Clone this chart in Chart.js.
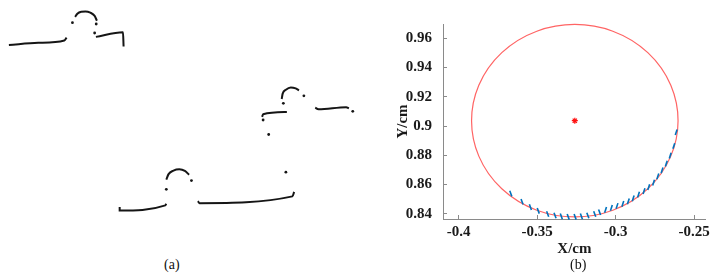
<!DOCTYPE html>
<html>
<head>
<meta charset="utf-8">
<script src="https://cdn.jsdelivr.net/npm/chart.js@4"></script>
<style>
    body { margin: 0; background: #fff; width: 718px; height: 278px; position: relative; overflow: hidden; font-family: 'Liberation Serif', serif; }
    #wrapA { position: absolute; left: 0; top: 0; width: 360px; height: 240px; }
    #wrapB { position: absolute; left: 380px; top: 0; width: 338px; height: 278px; }
    .cap { position: absolute; font-size: 14px; color: #111; line-height: 16px; }
</style>
</head>
<body>
<div id="wrapA"><canvas id="chartA"></canvas></div>
<div id="wrapB"><canvas id="chartB"></canvas></div>
<div class="cap" style="left:164px; top:257px;">(a)</div>
<div class="cap" style="left:570px; top:257px;">(b)</div>
<script>
// ---- panel (b): measured profile points and fitted circle ----
var markX = [-0.3668, -0.3596, -0.3543, -0.3493, -0.3433, -0.3386, -0.3346, -0.3302, -0.3258, -0.3218,
             -0.3177, -0.3133, -0.3102, -0.3064, -0.3027, -0.2991, -0.2954, -0.2919, -0.2888, -0.2854,
             -0.2819, -0.2789, -0.2758, -0.2731, -0.2704, -0.2677, -0.2652, -0.2629, -0.2614];
var markY = [0.8539, 0.8483, 0.8446, 0.8421, 0.8399, 0.8389, 0.8383, 0.8380, 0.8380, 0.8383,
             0.8389, 0.8399, 0.8411, 0.8427, 0.8441, 0.8454, 0.8469, 0.8485, 0.8506, 0.8531,
             0.8556, 0.8583, 0.8614, 0.8656, 0.8698, 0.8744, 0.8798, 0.8864, 0.8958];
var circleCenter = [-0.326, 0.9037];
var circleRadius = 0.0658;

var xTicks = [-0.4, -0.35, -0.3, -0.25];
var xTickLabels = ['-0.4', '-0.35', '-0.3', '-0.25'];
var yTicks = [0.84, 0.86, 0.88, 0.9, 0.92, 0.94, 0.96];
var yTickLabels = ['0.84', '0.86', '0.88', '0.9', '0.92', '0.94', '0.96'];

// ---- panel (a): point cloud outlines, in image units ----
var topBar = [[5, 42.3], [35, 40.2], [61.7, 37.7], [64, 34.7]];
var topArc = [[72.7, 13.3], [75, 10], [79, 8], [83.3, 7.7], [88.3, 9], [92.7, 12.3], [95, 17.3]];
var topRight = [[94, 34], [121.7, 29.3], [122.3, 44]];
var midArc = [[284, 98.3], [285, 92.7], [288.3, 88.7], [293.3, 86.3], [298.3, 87.3], [301.7, 89.3]];
var midLeftBar = [[264, 116.7], [265, 114], [289.3, 111.7]];
var midRightBar = [[318.3, 107.3], [321.7, 109], [350, 106.7], [352.7, 108]];
var lowArc = [[166, 181.7], [168.3, 176], [173.3, 172.3], [179.3, 171], [185, 172.7], [189.3, 176.7]];
var lowLeftBar = [[118.3, 210], [118.3, 213.7], [165, 208.3], [166, 206.7]];
var lowRightBar = [[198.3, 204], [200, 206], [295, 199], [296.7, 194.3]];
var looseDots = [[70, 19.3], [94.3, 20.7], [92.7, 30], [306.7, 95], [285.7, 102.7], [265, 120],
                 [270.7, 135], [288.3, 174], [356.7, 111], [191.7, 182.7], [166, 191.7]];

var serif = "'Liberation Serif', 'DejaVu Serif', serif";

function toPts(arr) {
    return arr.map(function(p) { return {x: p[0], y: p[1]}; });
}

// panel (a)
var segs = [topBar, topArc, topRight, midArc, midLeftBar, midRightBar, lowArc, lowLeftBar, lowRightBar];
var dsA = segs.map(function(s) {
    return { data: toPts(s), showLine: true, borderColor: '#151515', borderWidth: 2, pointRadius: 0, tension: 0.3 };
});
dsA.push({ data: toPts(looseDots), showLine: false, pointRadius: 1.4, backgroundColor: '#151515', borderWidth: 0 });

new Chart(document.getElementById('chartA'), {
    type: 'scatter',
    data: { datasets: dsA },
    options: {
        responsive: true, maintainAspectRatio: false, animation: false,
        layout: { padding: 0 },
        plugins: { legend: { display: false }, tooltip: { enabled: false } },
        scales: {
            x: { display: false, min: 0, max: 360 },
            y: { display: false, min: 0, max: 240, reverse: true }
        },
        elements: { line: { cubicInterpolationMode: 'monotone' } }
    }
});

// panel (b)
var fitCircle = {
    id: 'fitCircle',
    beforeDatasetsDraw: function(chart) {
        var xs = chart.scales.x, ys = chart.scales.y, ctx = chart.ctx;
        var cx = xs.getPixelForValue(circleCenter[0]);
        var cy = ys.getPixelForValue(circleCenter[1]);
        var rx = Math.abs(xs.getPixelForValue(circleCenter[0] + circleRadius) - cx);
        var ry = Math.abs(ys.getPixelForValue(circleCenter[1] + circleRadius) - cy);
        ctx.save();
        ctx.strokeStyle = 'rgb(255,100,100)';
        ctx.lineWidth = 1.2;
        ctx.beginPath();
        ctx.ellipse(cx, cy, rx, ry, 0, 0, Math.PI * 2);
        ctx.stroke();
        ctx.restore();
    }
};

var tickFont = { family: serif, size: 15, weight: 'bold' };
var titleFont = { family: serif, size: 15, weight: 'bold' };

new Chart(document.getElementById('chartB'), {
    type: 'scatter',
    data: {
        datasets: [{
            data: markX.map(function(x, i) { return {x: x, y: markY[i]}; }),
            pointStyle: 'line',
            pointRadius: 3,
            borderColor: '#0072BD',
            borderWidth: 1.6,
            rotation: function(c) { return markX[c.dataIndex] < -0.31 ? 70 : -72; },
            clip: 3
        }, {
            data: [{x: circleCenter[0], y: circleCenter[1]}],
            pointStyle: 'star',
            pointRadius: 3,
            borderColor: '#ff1010',
            borderWidth: 1.2
        }]
    },
    options: {
        responsive: true, maintainAspectRatio: false, animation: false,
        layout: { padding: { top: 7, right: 7, left: 0, bottom: 0 } },
        plugins: { legend: { display: false }, tooltip: { enabled: false } },
        scales: {
            x: {
                type: 'linear', min: -0.41, max: -0.2425,
                afterBuildTicks: function(s) { s.ticks = xTicks.map(function(v) { return {value: v}; }); },
                afterFit: function(s) { s.height = 59; },
                ticks: { callback: function(v, i) { return xTickLabels[i]; }, font: tickFont, color: '#1a1a1a', padding: 8, maxRotation: 0, autoSkip: false },
                grid: { drawOnChartArea: false, drawTicks: true, tickLength: -4, color: '#8a8a8a' },
                border: { display: true, color: '#8a8a8a', width: 1 },
                title: { display: true, text: 'X/cm', font: titleFont, color: '#1a1a1a', padding: { top: 0, bottom: 20 } }
            },
            y: {
                type: 'linear', min: 0.8365, max: 0.9698,
                afterBuildTicks: function(s) { s.ticks = yTicks.map(function(v) { return {value: v}; }); },
                afterFit: function(s) { s.width = 63; },
                ticks: { callback: function(v, i) { return yTickLabels[i]; }, font: tickFont, color: '#1a1a1a', padding: 15, autoSkip: false },
                grid: { drawOnChartArea: false, drawTicks: true, tickLength: -4, color: '#8a8a8a' },
                border: { display: true, color: '#8a8a8a', width: 1 },
                title: { display: true, text: 'Y/cm', font: titleFont, color: '#1a1a1a', padding: { top: 14, bottom: 14 } }
            }
        }
    },
    plugins: [fitCircle]
});
</script>
</body>
</html>
